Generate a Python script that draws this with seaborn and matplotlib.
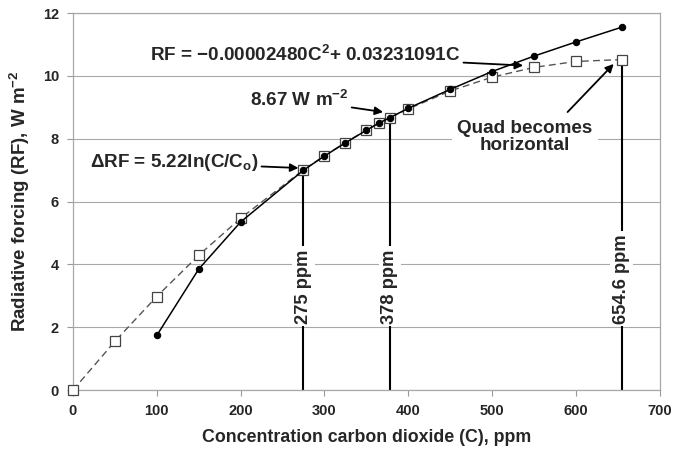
import matplotlib
matplotlib.use("Agg")
import matplotlib.pyplot as plt
import seaborn as sns
import pandas as pd

# Data
conc_log = [100, 150, 200, 275, 300, 325, 350, 365, 378, 400, 450, 500, 550, 600, 654.6]
rf_log = [1.74, 3.85, 5.35, 7.00, 7.45, 7.87, 8.27, 8.50, 8.67, 8.97, 9.57, 10.14, 10.63, 11.08, 11.55]

conc_quad = [0, 50, 100, 150, 200, 275, 300, 325, 350, 365, 378, 400, 450, 500, 550, 600, 654.6]
rf_quad = [0.0, 1.55, 2.98, 4.29, 5.47, 7.01, 7.46, 7.88, 8.27, 8.49, 8.67, 8.95, 9.52, 9.96, 10.27, 10.46, 10.52]

marker_conc = [275, 378, 654.6]
marker_rf = [7.00, 8.67, 10.52]
marker_labels = ["275 ppm", "378 ppm", "654.6 ppm"]

x_ticks = [0, 100, 200, 300, 400, 500, 600, 700]
y_ticks = [0, 2, 4, 6, 8, 10, 12]

sns.set_theme(style="white")
plt.rcParams['font.family'] = ['Liberation Sans', 'DejaVu Sans']
plt.rcParams['mathtext.fontset'] = 'custom'
plt.rcParams['mathtext.bf'] = 'Liberation Sans:bold'
plt.rcParams['mathtext.rm'] = 'Liberation Sans:bold'
plt.rcParams['mathtext.it'] = 'Liberation Sans:bold'

df_log = pd.DataFrame({"C": conc_log, "RF": rf_log})
df_quad = pd.DataFrame({"C": conc_quad, "RF": rf_quad})

fig = plt.figure(figsize=(6.88, 4.5), dpi=100)
ax = fig.add_axes([0.106, 0.133, 0.853, 0.838])

sns.lineplot(data=df_quad, x="C", y="RF", ax=ax, color="#555555", linewidth=1.0,
             linestyle=(0, (5, 3)), marker="s", markersize=7.5,
             markerfacecolor="white", markeredgecolor="#444444", markeredgewidth=0.9,
             zorder=3, clip_on=False)
sns.lineplot(data=df_log, x="C", y="RF", ax=ax, color="black", linewidth=1.1,
             marker="o", markersize=4.6, markerfacecolor="black", markeredgecolor="black",
             zorder=4)

ax.set_xlim(0, 700)
ax.set_ylim(0, 12)
ax.set_xticks(x_ticks)
ax.set_yticks(y_ticks)
ax.set_xticklabels([str(v) for v in x_ticks], fontweight="bold", fontsize=10.5)
ax.set_yticklabels([str(v) for v in y_ticks], fontweight="bold", fontsize=10.5)
ax.tick_params(axis="both", direction="out", length=4, width=0.8, color="#999999",
               bottom=True, left=True, pad=6)

ax.yaxis.grid(True, color="#a8a8a8", linewidth=0.8)
ax.xaxis.grid(False)
ax.set_axisbelow(True)
for s in ax.spines.values():
    s.set_color("#a8a8a8")
    s.set_linewidth(0.9)

ax.set_xlabel("Concentration carbon dioxide (C), ppm", fontweight="bold", fontsize=12.8, labelpad=8)
ax.set_ylabel("Radiative forcing (RF), W m$^{-2}$", fontweight="bold", fontsize=13.5, labelpad=8)

# Vertical marker lines with rotated labels
ax.vlines(marker_conc, 0, marker_rf, colors="black", linewidth=1.5, zorder=2)
for xc, lab in zip(marker_conc, marker_labels):
    ax.text(xc, 2.12, lab, rotation=90, ha="center", va="bottom", fontsize=13.2,
            fontweight="bold", zorder=5,
            bbox=dict(boxstyle="square,pad=0.15", fc="white", ec="none"))

arrow = dict(arrowstyle="-|>", color="black", lw=1.3, mutation_scale=12, shrinkA=0, shrinkB=0)
ax.annotate("RF = \u22120.00002480C$^{2}$+ 0.03231091C", xy=(537, 10.33), xytext=(92, 10.67),
            ha="left", va="center", fontsize=13.6, fontweight="bold", arrowprops=arrow, zorder=6)
ax.annotate("8.67 W m$^{-2}$", xy=(370, 8.85), xytext=(211, 9.24),
            ha="left", va="center", fontsize=13.6, fontweight="bold", arrowprops=arrow, zorder=6)
ax.annotate("\u0394RF = 5.22ln(C/C$_{o}$)", xy=(269, 7.07), xytext=(20, 7.23),
            ha="left", va="center", fontsize=13.6, fontweight="bold", arrowprops=arrow, zorder=6)
ax.annotate("", xy=(645, 10.38), xytext=(590, 8.85), arrowprops=arrow, zorder=6)
ax.text(539, 8.06, "Quad becomes\nhorizontal", ha="center", va="center", fontsize=13.6,
        fontweight="bold", linespacing=1.05, zorder=6,
        bbox=dict(boxstyle="square,pad=0.3", fc="white", ec="none"))

fig.savefig("out.png", dpi=100)
